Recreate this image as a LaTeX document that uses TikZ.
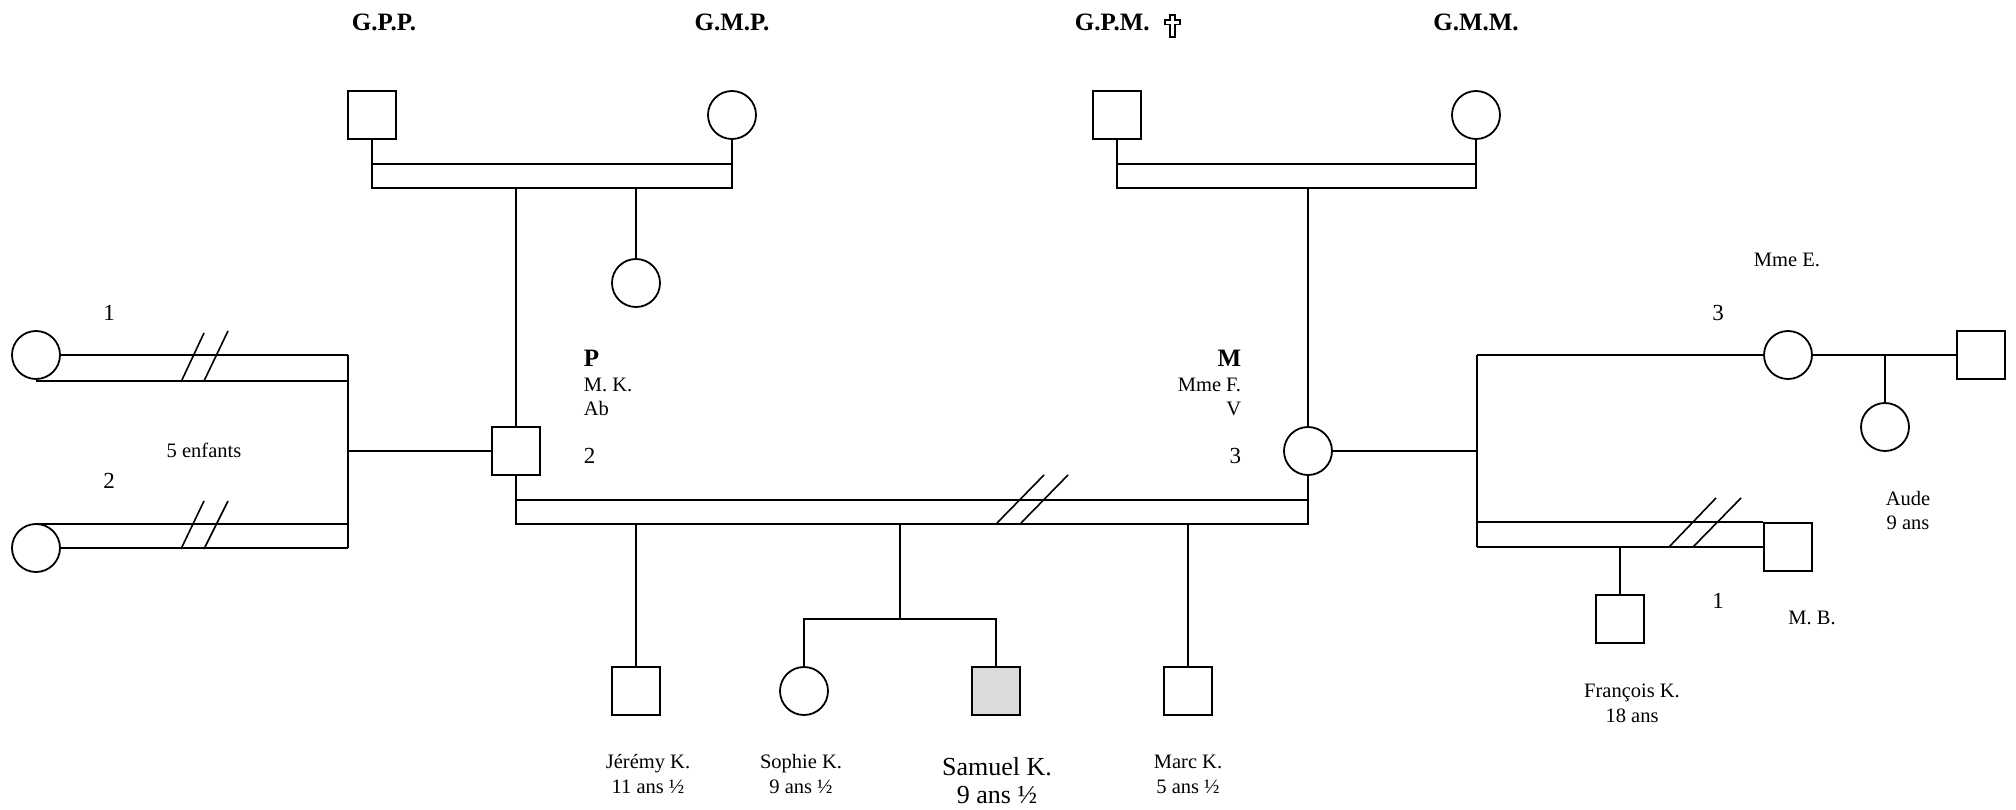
\documentclass[tikz,border=0pt]{standalone}
\usepackage{fontspec}
\setmainfont{Liberation Serif}
\begin{document}
\begin{tikzpicture}[x=1pt,y=-1pt,
  line width=1.8pt,
  male/.style={draw,rectangle,minimum size=48pt,inner sep=0pt},
  female/.style={draw,circle,minimum size=48pt,inner sep=0pt},
  index/.style={male,fill=black!14},
  lbl/.style={font=\fontsize{20.5}{24}\selectfont,inner sep=0pt,anchor=base},
  big/.style={font=\fontsize{26}{30}\selectfont,inner sep=0pt,anchor=base},
  gen/.style={font=\fontsize{25}{30}\selectfont\bfseries,inner sep=0pt,anchor=base},
  num/.style={font=\fontsize{23}{28}\selectfont,inner sep=0pt,anchor=base},
  slash/.style={line width=1.6pt},
  deceased/.style={line width=1.1pt,line join=miter},
]
\useasboundingbox (0,0) rectangle (2016,810);

% ---- generation I ----
\node[gen] (tgpp) at (384,31) {G.P.P.};
\node[gen] (tgmp) at (732,31) {G.M.P.};
\node[gen,anchor=base west] (tgpm) at (1074,31) {G.P.M.};
\node[gen] (tgmm) at (1476,31) {G.M.M.};
% outlined cross marking the deceased grandfather
\coordinate (cross) at (1172.5,15);
\draw[deceased] (cross) ++(-2.5,0) -- ++(5,0) -- ++(0,5) -- ++(5,0) -- ++(0,4.5)
  -- ++(-5,0) -- ++(0,12.5) -- ++(-5,0) -- ++(0,-12.5) -- ++(-5,0) -- ++(0,-4.5)
  -- ++(5,0) -- cycle;

\node[male]   (gpp) at (372,115) {};
\node[female] (gmp) at (732,115) {};
\node[male]   (gpm) at (1117,115) {};
\node[female] (gmm) at (1476,115) {};

% paternal couple
\draw (gpp.south) -- ++(0,48) -| (gmp.south);
\draw ([yshift=-24pt]gpp.south) -- ([yshift=-24pt]gmp.south);
\coordinate (gpbar) at (372,187);
% maternal couple
\draw (gpm.south) -- ++(0,48) -| (gmm.south);
\draw ([yshift=-24pt]gpm.south) -- ([yshift=-24pt]gmm.south);
\coordinate (gmbar) at (1117,187);

% ---- generation II ----
\node[male]   (P)    at (516,451) {};
\node[female] (aunt) at (636,283) {};
\node[female] (M)    at (1308,451) {};

\draw (P.north |- gpbar) -- (P.north);
\draw (aunt.north |- gpbar) -- (aunt.north);
\draw (M.north |- gmbar) -- (M.north);

% father's labels
\node[gen,anchor=base west] (tP)  at (583,366) {P};
\node[lbl,anchor=base west] (tMK) at (583,391) {M. K.};
\node[lbl,anchor=base west] (tAb) at (583,415) {Ab};
\node[num,anchor=base west] (tP2) at (583,463) {2};
% mother's labels
\node[gen,anchor=base east] (tM)  at (1242,366) {M};
\node[lbl,anchor=base east] (tMF) at (1242,391) {Mme F.};
\node[lbl,anchor=base east] (tV)  at (1242,415) {V};
\node[num,anchor=base east] (tM3) at (1242,463) {3};

% father's former unions
\node[female] (w1) at (36,355) {};
\node[female] (w2) at (36,548) {};
\coordinate (wj) at (348,451);
\draw (w1.east) -- (w1.east -| wj);
\draw ([yshift=-26pt]w1.center) -- ([yshift=-26pt]w1.center -| wj);
\draw ([yshift=24pt]w2.center) -- ([yshift=24pt]w2.center -| wj);
\draw (w2.east) -- (w2.east -| wj);
\draw (wj |- w1.east) -- (wj |- w2.east);
\draw (wj) -- (P.west);
\draw[slash] (181,382) -- (204,333);
\draw[slash] (204,381) -- (228,331);
\draw[slash] (181,549) -- (204,501);
\draw[slash] (204,549) -- (228,501);
\node[num] (tw1) at (109,320) {1};
\node[num] (tw2) at (109,488) {2};
\node[lbl] (t5e) at (204,457) {5 enfants};

% parents' union (separated)
\draw (P.south) -- ++(0,48) -| (M.south);
\draw ([yshift=-24pt]P.south) -- ([yshift=-24pt]M.south);
\coordinate (pmbar) at (516,523);
\draw[slash] (997,523) -- (1044,475);
\draw[slash] (1021,523) -- (1068,475);

% ---- generation III ----
\node[male]   (jer)  at (636,691) {};
\node[female] (sop)  at (804,691) {};
\node[index]  (sam)  at (996,691) {};
\node[male]   (marc) at (1188,691) {};
\coordinate (sib) at (900,619);

\draw (jer.north |- pmbar) -- (jer.north);
\draw (sib |- pmbar) -- (sib);
\draw (sop.north) |- (sib) -| (sam.north);
\draw (marc.north |- pmbar) -- (marc.north);

\node[lbl] (tjer1) at (648,768) {Jérémy K.};
\node[lbl] (tjer2) at (648,793) {11 ans ½};
\node[lbl] (tsop1) at (801,768) {Sophie K.};
\node[lbl] (tsop2) at (801,793) {9 ans ½};
\node[big] (tsam1) at (997,775) {Samuel K.};
\node[big] (tsam2) at (997,803) {9 ans ½};
\node[lbl] (tmar1) at (1188,768) {Marc K.};
\node[lbl] (tmar2) at (1188,793) {5 ans ½};

% mother's other unions
\node[female] (mme)  at (1788,355) {};
\node[male]   (mex)  at (1981,355) {};
\node[female] (aude) at (1885,427) {};
\node[male]   (mb)   at (1788,547) {};
\node[male]   (fra)  at (1620,619) {};
\coordinate (rj) at (1477,451);

\draw (M.east) -- (rj);
\draw (rj |- mme.west) -- (rj |- mb.west);
\draw (rj |- mme.west) -- (mme.west);
\draw (mme.east) -- (mex.west);
\draw (aude.north |- mme.east) -- (aude.north);
\draw (rj |- mb.north) -- (mb.north west);
\draw (rj |- mb.west) -- (mb.west);
\draw (fra.north |- mb.west) -- (fra.north);
\draw[slash] (1669,547) -- (1716,498);
\draw[slash] (1693,547) -- (1741,498);

\node[lbl] (tmme) at (1787,267) {Mme E.};
\node[num] (tm3)  at (1718,320) {3};
\node[lbl] (taud1) at (1908,505) {Aude};
\node[lbl] (taud2) at (1908,529) {9 ans};
\node[num] (tm1)  at (1718,608) {1};
\node[lbl] (tmb)  at (1812,624) {M. B.};
\node[lbl] (tfra1) at (1632,697) {François K.};
\node[lbl] (tfra2) at (1632,722) {18 ans};
\end{tikzpicture}
\end{document}
